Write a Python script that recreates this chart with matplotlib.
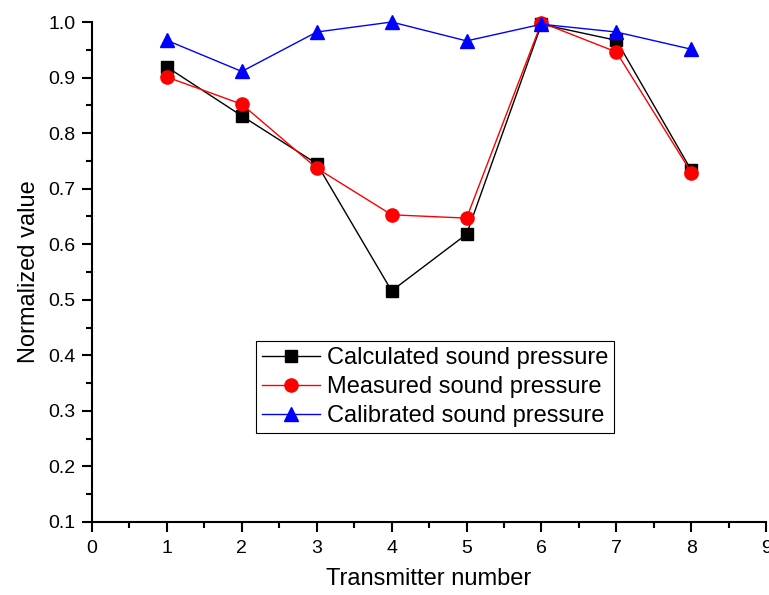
import numpy as np
import matplotlib.pyplot as plt
from matplotlib.ticker import MultipleLocator

plt.rcParams['font.family'] = ['Liberation Sans', 'DejaVu Sans']

# Data
transmitter = [1, 2, 3, 4, 5, 6, 7, 8]
calculated  = [0.919, 0.831, 0.745, 0.516, 0.618, 0.996, 0.967, 0.733]
measured    = [0.901, 0.852, 0.737, 0.653, 0.647, 0.999, 0.946, 0.729]
calibrated  = [0.967, 0.911, 0.982, 1.000, 0.966, 0.996, 0.982, 0.951]

fig = plt.figure(figsize=(7.69, 5.95), dpi=100)
ax  = fig.add_axes([0.1196, 0.1227, 0.8768, 0.8403])

ax.plot(transmitter, calculated, color='black', lw=1, marker='s', ms=8.5, label='Calculated sound pressure', clip_on=False)
ax.plot(transmitter, measured, color='red', lw=1, marker='o', ms=9.5, label='Measured sound pressure', clip_on=False)
ax.plot(transmitter, calibrated, color='blue', lw=1, marker='^', ms=10, label='Calibrated sound pressure', clip_on=False)

ax.set_xlim(0, 9)
ax.set_ylim(0.1, 1.0)
ax.xaxis.set_major_locator(MultipleLocator(1))
ax.xaxis.set_minor_locator(MultipleLocator(0.5))
ax.yaxis.set_major_locator(MultipleLocator(0.1))
ax.yaxis.set_minor_locator(MultipleLocator(0.05))
ax.yaxis.set_major_formatter(plt.FormatStrFormatter('%.1f'))

for s in ['top', 'right']:
    ax.spines[s].set_visible(False)
for s in ['left', 'bottom']:
    ax.spines[s].set_linewidth(1.5)
ax.tick_params(which='major', direction='out', length=7, width=1.5, labelsize=14)
ax.tick_params(axis='x', which='major', pad=6)
ax.tick_params(axis='y', which='major', pad=5)
ax.tick_params(which='minor', direction='out', length=4, width=1.5)

ax.set_xlabel('Transmitter number', fontsize=17, labelpad=8)
ax.set_ylabel('Normalized value', fontsize=17, labelpad=6)

leg = ax.legend(loc='lower left', bbox_to_anchor=(0.243, 0.178), borderaxespad=0,
                fontsize=17, fancybox=False, edgecolor='black', framealpha=1,
                handlelength=2.45, handletextpad=0.3, labelspacing=0.3, borderpad=0.25)
leg.get_frame().set_linewidth(0.8)

plt.savefig('out.png', dpi=100)
